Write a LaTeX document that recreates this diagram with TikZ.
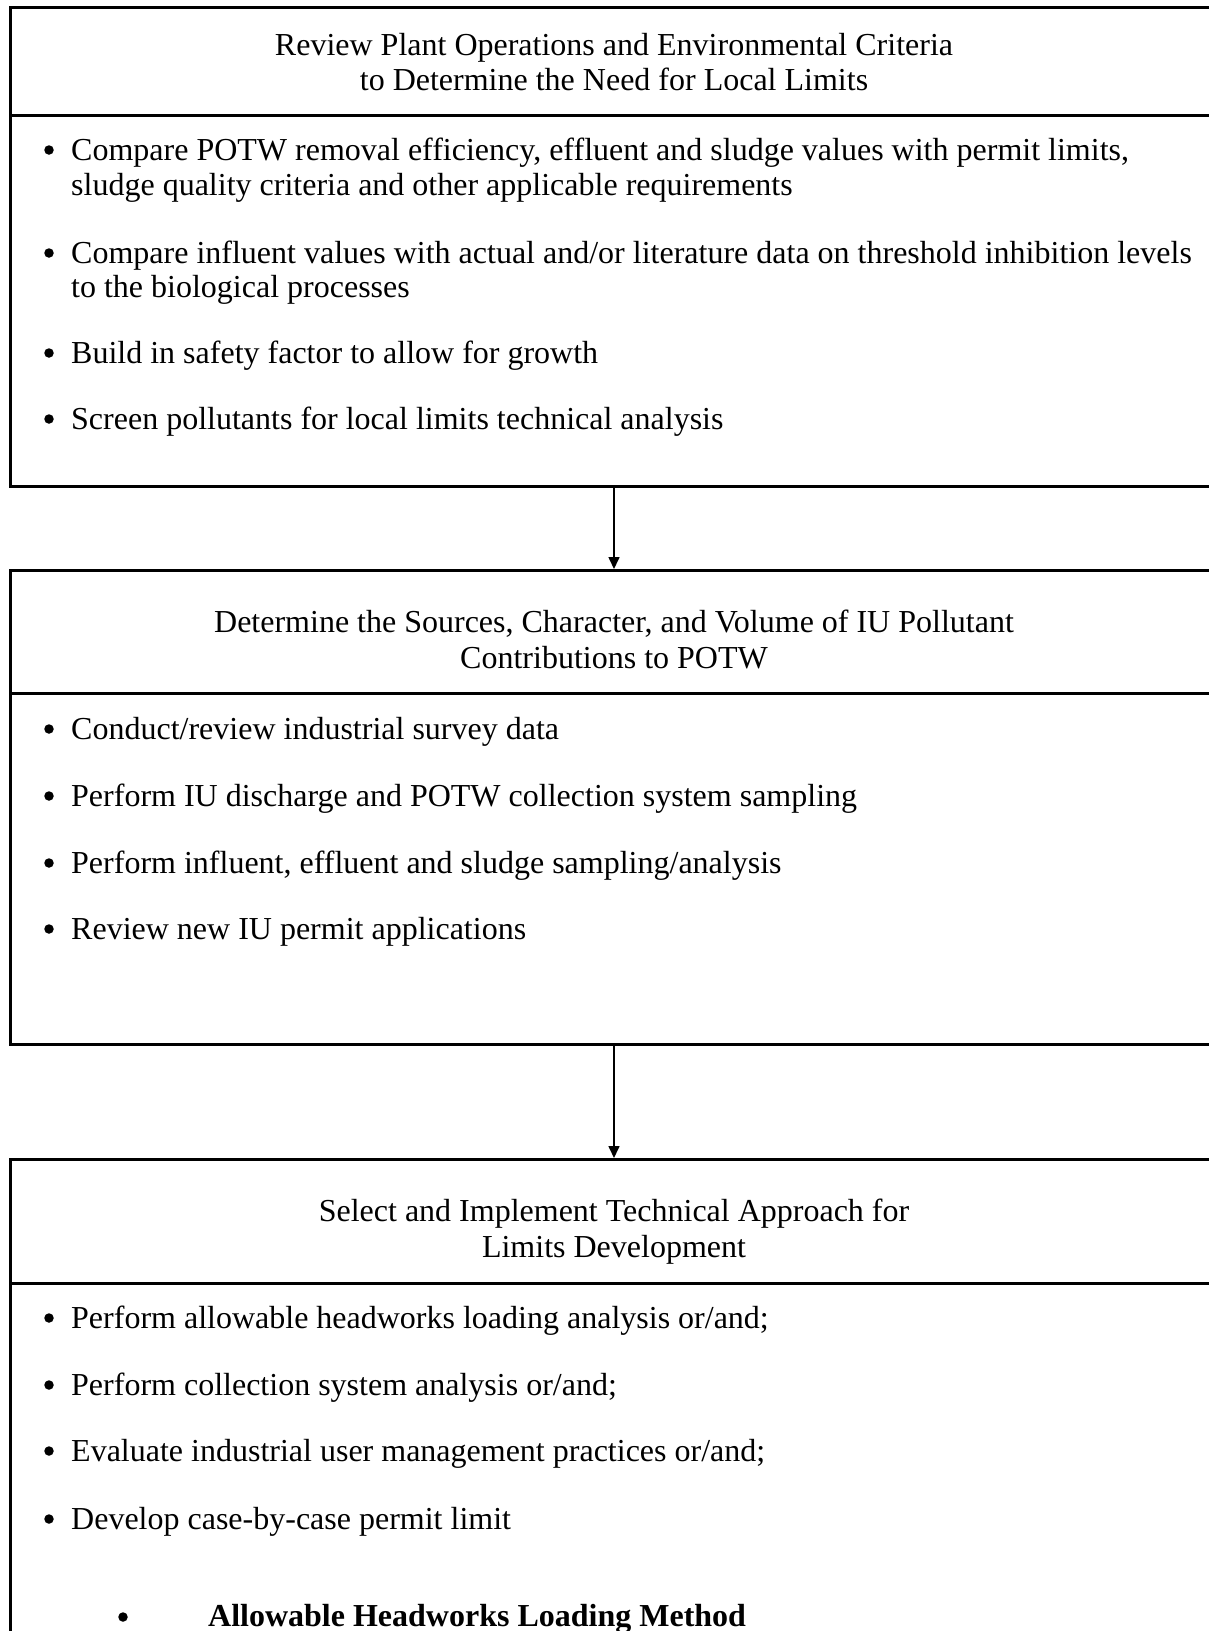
\documentclass[tikz,border=0pt]{standalone}
\usepackage{fontspec}
\setmainfont{Liberation Serif}
\usetikzlibrary{arrows.meta}
\begin{document}
\begin{tikzpicture}[x=1pt,y=-1pt,
  frame/.style={draw=black,line width=3pt,rectangle,anchor=north west,inner sep=0pt},
  divider/.style={line width=3pt},
  conn/.style={line width=1.6pt,-{Triangle[length=12pt,width=11pt]}},
  ttl/.style={anchor=base,inner sep=0pt,font=\fontsize{32}{37}\selectfont},
  txt/.style={anchor=base west,inner sep=0pt,font=\fontsize{32}{37}\selectfont},
  bul/.style={circle,fill=black,inner sep=0pt,minimum size=9.5pt},
  btxt/.style={anchor=base west,inner sep=0pt,font=\fontsize{32}{37}\selectfont\bfseries}]
\useasboundingbox (0,0) rectangle (1209,1631);
\clip (0,0) rectangle (1209,1631);
% boxes
\node[frame,minimum width=1230pt,minimum height=479pt] (box1) at (9,6) {};
\node[frame,minimum width=1230pt,minimum height=474pt] (box2) at (9,569) {};
\node[frame,minimum width=1230pt,minimum height=520pt] (box3) at (9,1158) {};
\coordinate (d1) at (9,115);
\coordinate (d2) at (9,693);
\coordinate (d3) at (9,1283);
\draw[divider] (d1) -- (d1 -| box1.east);
\draw[divider] (d2) -- (d2 -| box2.east);
\draw[divider] (d3) -- (d3 -| box3.east);
% box 1
\node[ttl] (t1a) at (614,55) {Review Plant Operations and Environmental Criteria};
\node[ttl] (t1b) at (614,90) {to Determine the Need for Local Limits};
\node[bul] (u11) at (49,150) {};
\node[txt] (i11a) at (71,160) {Compare POTW removal efficiency, effluent and sludge values with permit limits,};
\node[txt] (i11b) at (71,195) {sludge quality criteria and other applicable requirements};
\node[bul] (u12) at (49,253) {};
\node[txt] (i12a) at (71,263) {Compare influent values with actual and/or literature data on threshold inhibition levels};
\node[txt] (i12b) at (71,297) {to the biological processes};
\node[bul] (u13) at (49,353) {};
\node[txt] (i13) at (71,363) {Build in safety factor to allow for growth};
\node[bul] (u14) at (49,419) {};
\node[txt] (i14) at (71,429) {Screen pollutants for local limits technical analysis};
% box 2
\node[ttl] (t2a) at (614,632) {Determine the Sources, Character, and Volume of IU Pollutant};
\node[ttl] (t2b) at (614,668) {Contributions to POTW};
\node[bul] (u21) at (49,729) {};
\node[txt] (i21) at (71,739) {Conduct/review industrial survey data};
\node[bul] (u22) at (49,796) {};
\node[txt] (i22) at (71,806) {Perform IU discharge and POTW collection system sampling};
\node[bul] (u23) at (49,863) {};
\node[txt] (i23) at (71,873) {Perform influent, effluent and sludge sampling/analysis};
\node[bul] (u24) at (49,929) {};
\node[txt] (i24) at (71,939) {Review new IU permit applications};
% box 3
\node[ttl] (t3a) at (614,1221) {Select and Implement Technical Approach for};
\node[ttl] (t3b) at (614,1257) {Limits Development};
\node[bul] (u31) at (49,1318) {};
\node[txt] (i31) at (71,1328) {Perform allowable headworks loading analysis or/and;};
\node[bul] (u32) at (49,1385) {};
\node[txt] (i32) at (71,1395) {Perform collection system analysis or/and;};
\node[bul] (u33) at (49,1451) {};
\node[txt] (i33) at (71,1461) {Evaluate industrial user management practices or/and;};
\node[bul] (u34) at (49,1519) {};
\node[txt] (i34) at (71,1529) {Develop case-by-case permit limit};
\node[bul] (u35) at (123,1617) {};
\node[btxt] (i35) at (208,1626) {Allowable Headworks Loading Method};
% connectors
\draw[conn] (box1.south -| t1b) -- (box2.north -| t1b);
\draw[conn] (box2.south -| t2b) -- (box3.north -| t2b);
\end{tikzpicture}
\end{document}
